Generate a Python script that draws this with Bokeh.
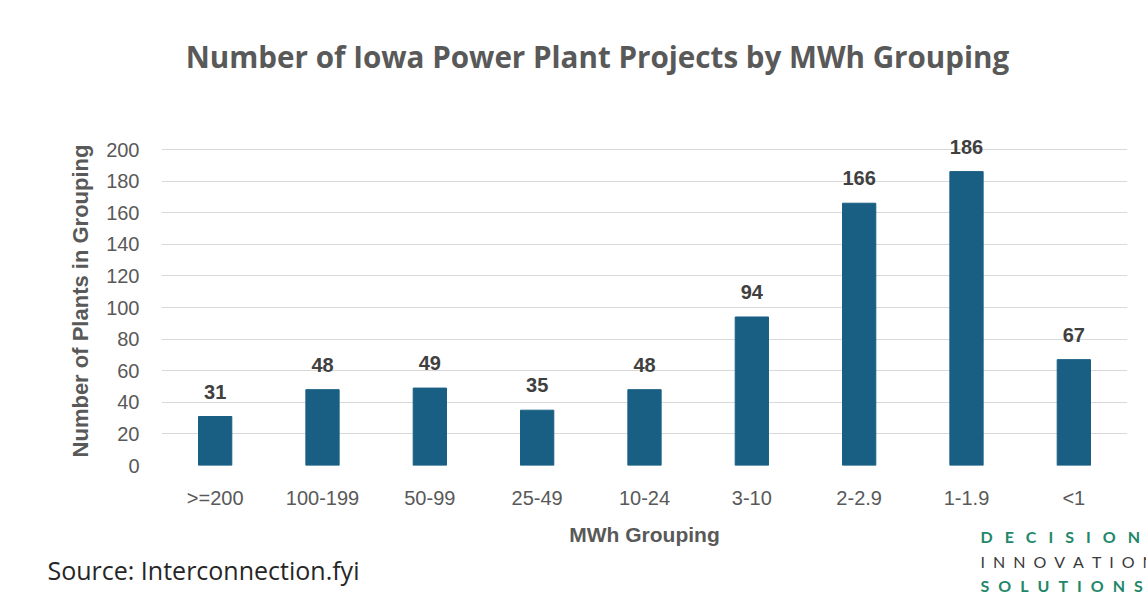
from bokeh.plotting import figure
from bokeh.models import Range1d, FixedTicker, Label, ColumnDataSource
from bokeh.core.properties import value
from bokeh.embed import file_html
from bokeh.resources import INLINE

categories = [">=200", "100-199", "50-99", "25-49", "10-24", "3-10", "2-2.9", "1-1.9", "<1"]
plants = [31, 48, 49, 35, 48, 94, 166, 186, 67]
y_ticks = [0, 20, 40, 60, 80, 100, 120, 140, 160, 180, 200]

title_text = "Number of Iowa Power Plant Projects by MWh Grouping"
x_title = "MWh Grouping"
y_title = "Number of Plants in Grouping"
source_text = "Source: Interconnection.fyi"
logo_words = ["DECISION", "INNOVATION", "SOLUTIONS"]

W, H = 1146, 606
FL, FR, FT, FB_ = 161, 19, 136, 141
frame_w = W - FL - FR
frame_h = H - FT - FB_
YU = 1.58
y_end = frame_h / YU

p = figure(width=W, height=H, x_range=categories, y_range=Range1d(0, y_end),
           output_backend="svg", toolbar_location=None,
           min_border_left=FL, min_border_right=FR, min_border_top=FT, min_border_bottom=FB_)
p.title.visible = False
p.outline_line_color = None
p.background_fill_color = "white"
p.border_fill_color = "white"

src = ColumnDataSource(dict(cat=categories, val=plants, lab=[str(v) for v in plants]))
p.vbar(x="cat", top="val", width=0.31, source=src, fill_color="#195f83", line_color="#195f83")
p.text(x="cat", y="val", text="lab", source=src, text_align="center", text_baseline="alphabetic",
       y_offset=-25, text_font_size="20px", text_font_style="bold", text_color="#404040",
       text_font=value("Liberation Sans"))

p.xgrid.grid_line_color = None
p.ygrid.grid_line_color = "#d9d9d9"
p.ygrid.grid_line_width = 1
p.yaxis.ticker = FixedTicker(ticks=y_ticks)

for ax in (p.xaxis[0], p.yaxis[0]):
    ax.axis_line_color = None
    ax.major_tick_line_color = None
    ax.minor_tick_line_color = None
    ax.major_tick_out = 0
    ax.major_tick_in = 0
    ax.major_label_text_font = "Liberation Sans"
    ax.major_label_text_font_size = "20px"
    ax.major_label_text_color = "#595959"
    ax.axis_label_text_font = "Liberation Sans"
    ax.axis_label_text_font_style = "bold"
    ax.axis_label_text_color = "#595959"

p.xaxis.axis_label = x_title
p.yaxis.axis_label = y_title
p.xaxis.axis_label_text_font_size = "21px"
p.yaxis.axis_label_text_font_size = "22px"
p.xaxis.major_label_standoff = 21
p.xaxis.axis_label_standoff = 11
p.yaxis.major_label_standoff = 22
p.yaxis.axis_label_standoff = 10

# Texts outside the plot frame are Labels in the "above" side panels (not clipped to the frame).
# Panels stack upward from the frame top in list order; positions are relative to each panel.
items = [
    # text, target x, target baseline, font, size, style, color, align, panel height
    ("\u2002\u2009\u200a\u200a".join(logo_words[0]), 980, 543, "Lato", 16, "bold", "#22876a", "left", 19),
    ("\u2002".join(logo_words[1]), 980, 568, "Lato", 16, "normal", "#3a3a3a", "left", 19),
    ("\u2002\u200a".join(logo_words[2]), 980, 592, "Lato", 16, "bold", "#22876a", "left", 19),
    (source_text, 47, 580, "Open Sans", 25, "normal", "#262626", "left", 34),
    (title_text, 597, 68, "Open Sans", 29.6, "bold", "#595959", "center", 40),
]
panel_bottom = FT
for text, tx, ty, font, size, style, col, align, h in items:
    shift = 0.41 * size
    p.add_layout(Label(x=tx - FL, y=panel_bottom + shift - ty, x_units="screen", y_units="screen",
                       text=text, text_align=align, text_baseline="alphabetic", text_font=font,
                       text_font_size=f"{size}px", text_font_style=style, text_color=col), "above")
    panel_bottom -= h

open("out.html", "w").write(file_html(p, INLINE))
